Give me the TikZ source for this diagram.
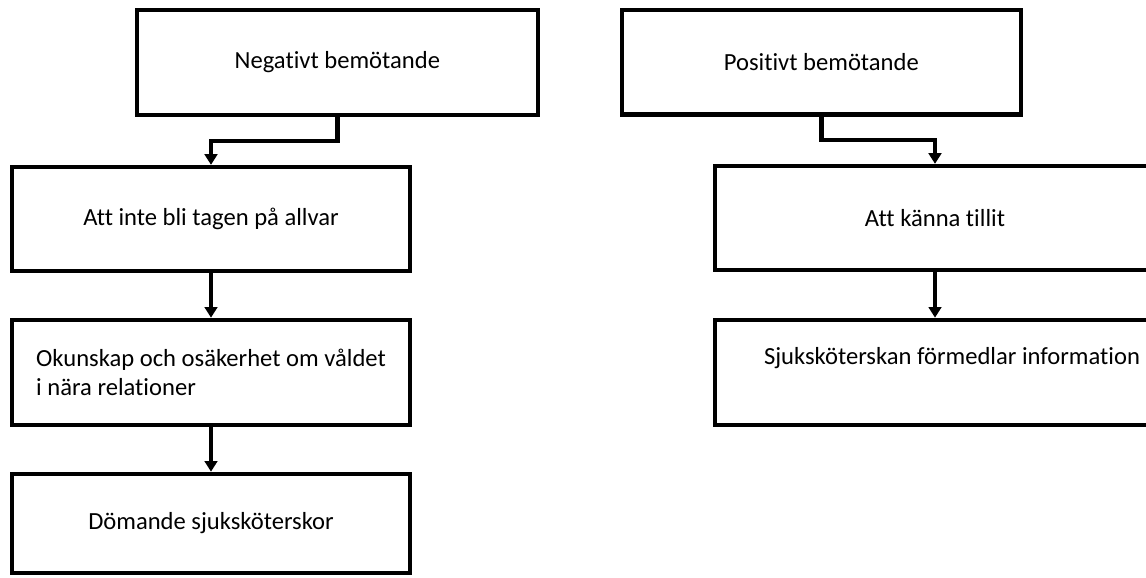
\documentclass[tikz,border=0pt]{standalone}
\usepackage{fontspec}
\setmainfont{Carlito}[Ligatures=NoCommon]
\usepackage{tikz}
\usetikzlibrary{calc,arrows.meta,positioning}

\begin{document}
\begin{tikzpicture}[font=\fontsize{21}{25}\selectfont,
        stage/.style={draw=black,line width=3.7pt,minimum height=3.12cm,align=center,inner sep=0pt},
        arr/.style={line width=3.7pt,-{Triangle[width=0.38cm,length=0.32cm]}}]
      \useasboundingbox (0,0) rectangle (34.38,-17.31);
      \clip (0,0) rectangle (34.38,-17.31);
      % left chain
      \node[stage,minimum width=12.03cm,minimum height=3.15cm] (neg) at (10.12,-1.87) {Negativt bemötande};
      \node[stage,minimum width=11.94cm] (allvar) at (6.33,-6.57) {Att inte bli tagen på allvar};
      \node[stage,minimum width=11.94cm,minimum height=3.15cm,align=left] (okunskap) at (6.33,-11.17)
        {Okunskap och osäkerhet om våldet\\i nära relationer};
      \node[stage,minimum width=11.94cm,minimum height=2.97cm] (domande) at (6.33,-15.70) {Dömande sjuksköterskor};
      % right chain
      \node[stage,minimum width=11.97cm,minimum height=3.13cm] (pos) at (24.64,-1.87) {Positivt bemötande};
      \node[stage,minimum width=13.2cm] (tillit) at (28.05,-6.54) {Att känna tillit};
      \node[stage,minimum width=13.2cm,minimum height=3.15cm] (info) at (28.05,-11.17) {};
      \node (infotext) at (28.56,-10.75) {Sjuksköterskan förmedlar information};
      % connectors
      \draw[arr] (neg.south) |- ($(neg.south)!.5!(allvar.north)$) -| (allvar.north);
      \draw[arr] (allvar) -- (okunskap);
      \draw[arr] (okunskap) -- (domande);
      \draw[arr] (pos.south) |- ($(pos.south)!.5!(tillit.north)$) -| (tillit.north);
      \draw[arr] (tillit) -- (info);
    \end{tikzpicture}
\end{document}
